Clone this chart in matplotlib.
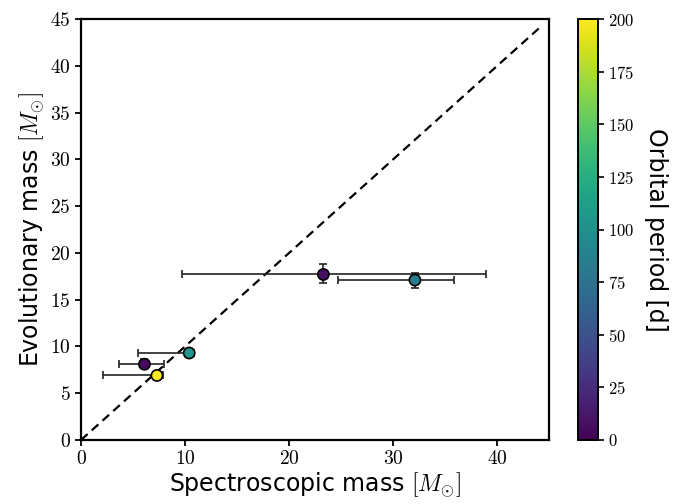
import matplotlib
matplotlib.use("Agg")
import matplotlib.pyplot as plt
import numpy as np

plt.rcParams['mathtext.fontset'] = 'cm'
plt.rcParams['axes.formatter.use_mathtext'] = True

# Spectroscopic vs evolutionary masses of the binary components
spec_mass = [23.3, 32.1, 10.4, 6.1, 7.3]
spec_err_lo = [13.6, 7.4, 4.9, 2.4, 5.2]
spec_err_hi = [15.6, 3.8, 0.5, 1.9, 0.6]
evol_mass = [17.7, 17.1, 9.3, 8.1, 6.9]
evol_err_lo = [0.9, 0.9, 0.3, 0.3, 0.2]
evol_err_hi = [1.1, 0.8, 0.4, 0.6, 0.2]
period = [8, 85, 105, 5, 200]

fig = plt.figure(figsize=(6.83, 5.04), dpi=100)
ax = fig.add_axes([0.1186, 0.127, 0.6854, 0.835])
cax = fig.add_axes([0.846, 0.127, 0.029, 0.835])

ax.plot([0, 44], [0, 44], ls='--', color='black', lw=1.6, dashes=(4, 2.5), zorder=1)
ax.errorbar(spec_mass, evol_mass,
            xerr=[spec_err_lo, spec_err_hi],
            yerr=[evol_err_lo, evol_err_hi],
            fmt='none', ecolor='#222222', elinewidth=1.2, capsize=3, capthick=1.2, zorder=2)
sc = ax.scatter(spec_mass, evol_mass, c=period, cmap='viridis', vmin=0, vmax=200,
                s=65, edgecolors='black', linewidths=1.2, zorder=3)

ax.set_xlim(0, 45)
ax.set_ylim(0, 45)
ax.set_xticks([0, 10, 20, 30, 40])
ax.set_yticks(np.arange(0, 46, 5))
ax.set_xlabel(r'Spectroscopic mass $[M_{\odot}]$', fontsize=17, labelpad=1)
ax.set_ylabel(r'Evolutionary mass $[M_{\odot}]$', fontsize=17, labelpad=3)
for sp in ax.spines.values():
    sp.set_linewidth(1.6)
ax.tick_params(width=1.3, length=4, labelsize=14)
for lab in ax.get_xticklabels() + ax.get_yticklabels():
    lab.set_fontfamily('cmr10')

cb = fig.colorbar(sc, cax=cax, ticks=np.arange(0, 201, 25))
cb.set_label('Orbital period [d]', fontsize=17, rotation=270, labelpad=24)
cb.outline.set_linewidth(1.4)
cax.tick_params(width=1.2, length=4, labelsize=12)
for lab in cax.get_yticklabels():
    lab.set_fontfamily('cmr10')

fig.savefig('out.png', dpi=100)
